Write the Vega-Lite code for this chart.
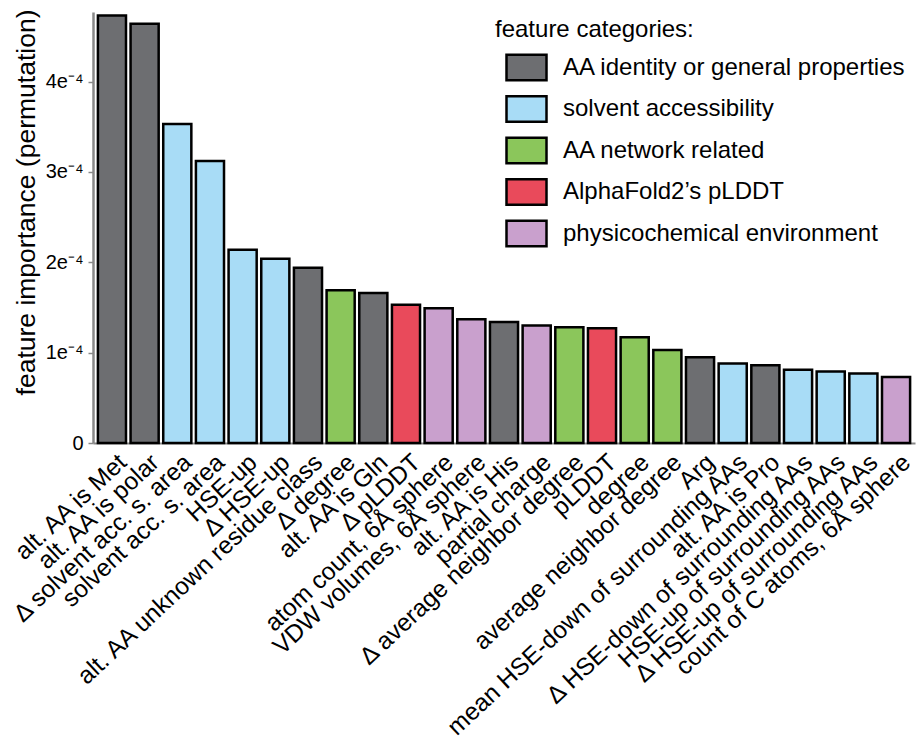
{
  "$schema": "https://vega.github.io/schema/vega-lite/v6.json",
  "autosize": {"type": "none"},
  "padding": {"left": 93, "top": 12, "right": 1, "bottom": 301},
  "width": 822,
  "height": 431,
  "config": {
    "font": "Liberation Sans",
    "view": {"stroke": null}
  },
  "data": {
    "values": [
      {"feature": "alt. AA is Met", "importance": 0.000473, "category": "AA identity or general properties"},
      {"feature": "alt. AA is polar", "importance": 0.000464, "category": "AA identity or general properties"},
      {"feature": "Δ solvent acc. s. area", "importance": 0.000353, "category": "solvent accessibility"},
      {"feature": "solvent acc. s. area", "importance": 0.000312, "category": "solvent accessibility"},
      {"feature": "HSE-up", "importance": 0.000214, "category": "solvent accessibility"},
      {"feature": "Δ HSE-up", "importance": 0.000204, "category": "solvent accessibility"},
      {"feature": "alt. AA unknown residue class", "importance": 0.000194, "category": "AA identity or general properties"},
      {"feature": "Δ degree", "importance": 0.000169, "category": "AA network related"},
      {"feature": "alt. AA is Gln", "importance": 0.000166, "category": "AA identity or general properties"},
      {"feature": "Δ pLDDT", "importance": 0.000153, "category": "AlphaFold2’s pLDDT"},
      {"feature": "atom count, 6Å sphere", "importance": 0.000149, "category": "physicochemical environment"},
      {"feature": "VDW volumes, 6Å sphere", "importance": 0.000137, "category": "physicochemical environment"},
      {"feature": "alt. AA is His", "importance": 0.000134, "category": "AA identity or general properties"},
      {"feature": "partial charge", "importance": 0.000130, "category": "physicochemical environment"},
      {"feature": "Δ average neighbor degree", "importance": 0.000128, "category": "AA network related"},
      {"feature": "pLDDT", "importance": 0.000127, "category": "AlphaFold2’s pLDDT"},
      {"feature": "degree", "importance": 0.000117, "category": "AA network related"},
      {"feature": "average neighbor degree", "importance": 0.000103, "category": "AA network related"},
      {"feature": "Arg", "importance": 0.000095, "category": "AA identity or general properties"},
      {"feature": "mean HSE-down of surrounding AAs", "importance": 0.000088, "category": "solvent accessibility"},
      {"feature": "alt. AA is Pro", "importance": 0.000086, "category": "AA identity or general properties"},
      {"feature": "Δ HSE-down of surrounding AAs", "importance": 0.000081, "category": "solvent accessibility"},
      {"feature": "HSE-up of surrounding AAs", "importance": 0.000079, "category": "solvent accessibility"},
      {"feature": "Δ HSE-up of surrounding AAs", "importance": 0.000077, "category": "solvent accessibility"},
      {"feature": "count of C atoms, 6Å sphere", "importance": 0.000073, "category": "physicochemical environment"}
    ]
  },
  "mark": {"type": "bar", "stroke": "black", "strokeWidth": 2.5},
  "encoding": {
    "x": {
      "field": "feature",
      "type": "nominal",
      "sort": null,
      "scale": {"paddingInner": 0.14, "paddingOuter": 0.15},
      "axis": {
        "title": null,
        "labelAngle": -43,
        "labelAlign": "right",
        "labelBaseline": "top",
        "labelFontSize": 24.5,
        "labelColor": "black",
        "labelPadding": 7,
        "labelOffset": 3,
        "labelLimit": 600,
        "labelOverlap": false,
        "ticks": false,
        "domainColor": "#888888",
        "domainWidth": 2
      }
    },
    "y": {
      "field": "importance",
      "type": "quantitative",
      "scale": {"domain": [0, 0.000477], "nice": false},
      "axis": {
        "title": "feature importance (permutation)",
        "titleFontSize": 26.5,
        "titleFontWeight": "normal",
        "titleColor": "black",
        "titleX": -53,
        "titleY": 190,
        "values": [0, 0.0001, 0.0002, 0.0003, 0.0004],
        "labelExpr": "datum.value == 0 ? '0' : round(datum.value * 10000) + 'e⁻⁴'",
        "labelFontSize": 20,
        "labelColor": "black",
        "labelPadding": 5,
        "grid": false,
        "tickColor": "#888888",
        "tickSize": 5,
        "tickWidth": 1.5,
        "domainColor": "#888888",
        "domainWidth": 2.5
      }
    },
    "color": {
      "field": "category",
      "type": "nominal",
      "scale": {
        "domain": ["AA identity or general properties", "solvent accessibility", "AA network related", "AlphaFold2’s pLDDT", "physicochemical environment"],
        "range": ["#6d6e71", "#a8dcf6", "#8bc65b", "#e94a5b", "#c9a0cd"]
      },
      "legend": {
        "title": "feature categories:",
        "orient": "none",
        "legendX": 402,
        "legendY": 6,
        "titleFontSize": 24,
        "titleFontWeight": "normal",
        "titleColor": "black",
        "titlePadding": 4,
        "titleLimit": 600,
        "labelFontSize": 24,
        "labelColor": "black",
        "labelOffset": 15,
        "labelLimit": 600,
        "symbolType": "M-1,-0.64H1V0.64H-1Z",
        "symbolSize": 1600,
        "symbolStrokeColor": "black",
        "symbolStrokeWidth": 2.5,
        "symbolOpacity": 1,
        "symbolOffset": 10,
        "rowPadding": 1.5
      }
    }
  }
}
